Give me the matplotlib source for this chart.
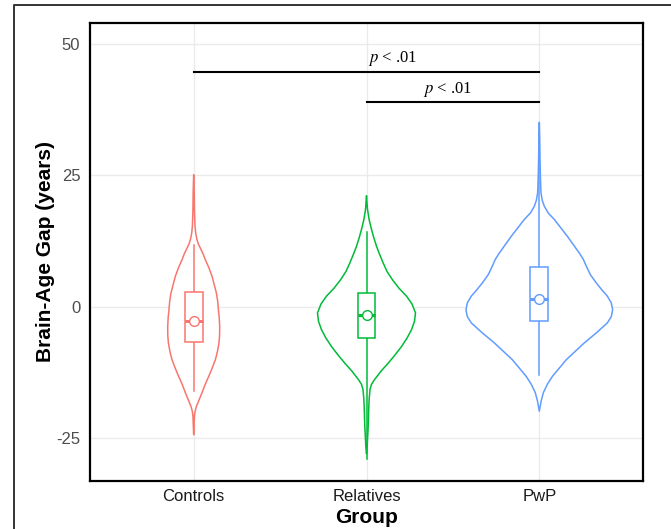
import numpy as np
import matplotlib
matplotlib.use("Agg")
import matplotlib.pyplot as plt
from matplotlib.lines import Line2D

# groups and colours (ggplot default hue)
groups = ["Controls", "Relatives", "PwP"]
colors = ["#F8766D", "#00BA38", "#619CFF"]

# violin outlines: value (years) and density (arbitrary units)
ctrl_y = [25.1, 22.0, 18.0, 15.3, 14.0, 13.0, 12.0, 11.0, 10.0, 8.9, 7.5, 5.8, 4.0, 2.6, 1.0,
          -0.6, -2.0, -3.8, -5.5, -6.9, -8.5, -10.1, -11.7, -13.3, -14.8, -16.4, -17.7,
          -19.0, -20.0, -20.9, -22.5, -24.4]
ctrl_d = [0.0, 0.5, 0.8, 1.3, 2.0, 3.0, 4.5, 7.0, 9.5, 11.7, 15.0, 18.3, 20.8, 22.7, 24.0,
          24.7, 25.5, 26.0, 25.9, 25.3, 23.8, 21.7, 18.5, 15.0, 11.5, 8.3, 5.5,
          2.7, 1.3, 0.7, 0.4, 0.0]

rel_y = [21.1, 19.5, 18.5, 16.5, 14.7, 13.0, 11.5, 10.0, 8.3, 6.7, 5.1, 3.5, 2.0, 0.5,
         -1.2, -2.8, -4.4, -6.0, -7.6, -9.2, -10.7, -12.3, -13.9, -14.8, -15.8, -17.5,
         -19.0, -21.0, -22.8, -25.0, -26.6, -28.0]
rel_d = [0.0, 0.6, 1.0, 2.7, 5.0, 7.5, 10.0, 13.0, 16.7, 20.5, 26.0, 32.5, 40.0, 45.5,
         49.0, 48.0, 45.0, 40.5, 35.0, 28.5, 22.0, 14.5, 8.0, 5.0, 3.5, 2.7,
         2.3, 2.0, 1.7, 1.1, 0.7, 0.0]

pwp_y = [35.1, 32.0, 28.0, 24.0, 21.6, 20.2, 19.1, 17.8, 16.6, 15.0, 13.4, 11.8, 10.2, 9.0,
         7.7, 6.1, 4.5, 3.2, 2.0, 0.7, -0.6, -1.9, -3.1, -5.0, -6.9, -8.5, -10.1, -11.7,
         -13.3, -14.8, -16.4, -18.0, -19.9]
pwp_d = [0.0, 0.4, 0.7, 1.2, 1.7, 3.0, 5.0, 9.0, 15.0, 21.5, 28.0, 34.0, 40.0, 44.0,
         47.0, 51.0, 57.0, 62.5, 68.0, 72.0, 73.3, 72.0, 68.0, 57.0, 45.0, 36.0, 27.0, 20.0,
         13.0, 8.0, 4.0, 1.8, 0.0]

violin_y = [ctrl_y, rel_y, pwp_y]
violin_d = [ctrl_d, rel_d, pwp_d]
dens_scale = 1 / 172.8   # density units -> x units

# box summaries
whisk_lo = [-16.0, -29.0, -13.0]
q1 = [-6.7, -5.9, -2.7]
median = [-2.7, -1.5, 1.4]
q3 = [2.7, 2.5, 7.6]
whisk_hi = [11.8, 14.3, 33.0]
means = [-2.7, -1.5, 1.4]

# significance brackets: (from group, to group, height, label x)
brackets = [(1, 3, 44.7, 2.15), (2, 3, 38.9, 2.47)]
yticks = [-25, 0, 25, 50]

plt.rcParams["font.family"] = ["Liberation Sans", "DejaVu Sans"]
plt.rcParams["mathtext.fontset"] = "stix"
plt.rcParams["axes.unicode_minus"] = False

fig = plt.figure(figsize=(6.71, 5.29), dpi=100)
ax = fig.add_axes([90 / 671, 48 / 529, 553 / 671, 458 / 529])

pos = np.arange(1, len(groups) + 1)
for i, p in enumerate(pos):
    c = colors[i]
    vy = np.array(violin_y[i])
    vw = np.array(violin_d[i]) * dens_scale
    xs = np.concatenate([p + vw, (p - vw)[::-1]])
    ys = np.concatenate([vy, vy[::-1]])
    ax.fill(xs, ys, facecolor="white", edgecolor=c, lw=1.1, joinstyle="round", zorder=3)
    # whiskers
    ax.plot([p, p], [whisk_lo[i], q1[i]], color=c, lw=1.1, zorder=4)
    ax.plot([p, p], [q3[i], whisk_hi[i]], color=c, lw=1.1, zorder=4)
    # box
    bw = 0.051
    ax.fill([p - bw, p + bw, p + bw, p - bw, p - bw],
            [q1[i], q1[i], q3[i], q3[i], q1[i]],
            facecolor="white", edgecolor=c, lw=1.1, zorder=4)
    ax.plot([p - bw, p + bw], [median[i], median[i]], color=c, lw=2.2,
            solid_capstyle="butt", zorder=5)
    ax.plot(p, means[i], "o", ms=7, mfc="white", mec=c, mew=1.0, zorder=6)

for g1, g2, h, tx in brackets:
    ax.plot([g1, g2], [h, h], color="black", lw=1.5, zorder=5)
    ax.text(tx, h + 0.7, r"$p$ < .01", ha="center", va="bottom",
            fontsize=12, family=["Liberation Serif", "DejaVu Serif"])

ax.set_xlim(0.4, 3.6)
ax.set_ylim(-33.2, 54.0)
ax.set_xticks(pos)
ax.set_xticklabels(groups)
ax.set_yticks(yticks)
ax.grid(True, color="#ebebeb", lw=1.0, zorder=0)
ax.set_axisbelow(True)
ax.tick_params(axis="both", length=0, labelsize=12)
ax.tick_params(axis="x", labelcolor="#1a1a1a", pad=6)
ax.tick_params(axis="y", labelcolor="#4d4d4d", pad=7)
for s in ax.spines.values():
    s.set_linewidth(1.6)
    s.set_color("black")

ax.set_ylabel("Brain-Age Gap (years)", fontsize=15, fontweight="bold")
ax.set_xlabel("Group", fontsize=15, fontweight="bold")
ax.yaxis.set_label_coords(-0.063, 0.5)
ax.xaxis.set_label_coords(0.5, -0.058)
ax.xaxis.label.set_va("top")

# outer frame (cropped)
fig.add_artist(Line2D([14 / 671, 14 / 671, 1.0], [0.0, 1 - 5 / 529, 1 - 5 / 529],
                      transform=fig.transFigure, color="#333333", lw=1.4))

fig.savefig("out.png", dpi=100)
